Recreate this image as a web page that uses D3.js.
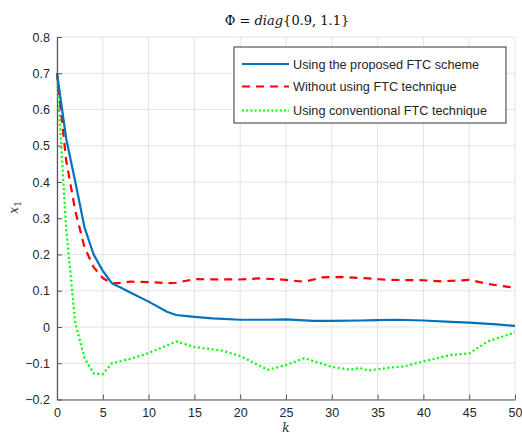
<!DOCTYPE html>
<html>
<head>
<meta charset="utf-8">
<script src="https://cdn.jsdelivr.net/npm/d3@7/dist/d3.min.js"></script>
<style>
    body { margin: 0; background: #fff; }
    svg { display: block; font-family: "Liberation Sans", Arial, sans-serif; }
    .tick text { font-size: 12.5px; fill: #262626; }
    .grid line { stroke: #e3e3e3; stroke-width: 1; }
</style>
</head>
<body>
<div id="chart"></div>
<script>
// data
var kBlue = [0, 1, 2, 3, 4, 5, 6, 7, 8, 10, 12, 13, 15, 17, 20, 23, 25, 28, 30, 33, 35, 37, 40, 43, 45, 48, 50];
var blue  = [0.70, 0.52, 0.40, 0.275, 0.20, 0.155, 0.12, 0.108, 0.095, 0.07, 0.042, 0.033, 0.028, 0.024, 0.020, 0.020, 0.021, 0.017, 0.017, 0.018, 0.019, 0.020, 0.018, 0.014, 0.012, 0.007, 0.003];

var kRed = [0, 1, 2, 3, 4, 5, 6, 7, 8, 10, 12, 13, 15, 20, 22, 24, 27, 29, 31, 34, 36, 40, 42, 45, 47, 50];
var red  = [0.70, 0.46, 0.32, 0.22, 0.165, 0.135, 0.12, 0.122, 0.125, 0.124, 0.121, 0.122, 0.132, 0.131, 0.134, 0.132, 0.125, 0.137, 0.138, 0.134, 0.13, 0.129, 0.126, 0.13, 0.119, 0.108];

var kGreen = [0, 1, 2, 3, 4, 5, 6, 8, 10, 13, 15, 18, 20, 23, 25, 27, 30, 32, 33, 34, 36, 38, 40, 43, 45, 47, 50];
var green  = [0.70, 0.27, 0.01, -0.085, -0.128, -0.13, -0.10, -0.088, -0.072, -0.04, -0.055, -0.065, -0.08, -0.118, -0.105, -0.086, -0.11, -0.118, -0.113, -0.12, -0.113, -0.108, -0.095, -0.077, -0.073, -0.04, -0.015];

var xTicks = [0, 5, 10, 15, 20, 25, 30, 35, 40, 45, 50];
var yTicks = [-0.2, -0.1, 0, 0.1, 0.2, 0.3, 0.4, 0.5, 0.6, 0.7, 0.8];
var legendLabels = ["Using the proposed FTC scheme", "Without using FTC technique", "Using conventional FTC technique"];

var W = 522, H = 435;
var margin = { top: 37, left: 57, bottom: 35.5, right: 7 };
var width = W - margin.left - margin.right;
var height = H - margin.top - margin.bottom;

var svg = d3.select("#chart").append("svg")
    .attr("width", W)
    .attr("height", H);

var g = svg.append("g")
    .attr("transform", "translate(" + margin.left + "," + margin.top + ")");

var x = d3.scaleLinear().domain([0, 50]).range([0, width]);
var y = d3.scaleLinear().domain([-0.2, 0.8]).range([height, 0]);

// grid
g.append("g").attr("class", "grid")
    .selectAll("line").data(xTicks).enter().append("line")
    .attr("x1", function (d) { return x(d); }).attr("x2", function (d) { return x(d); })
    .attr("y1", 0).attr("y2", height);
g.append("g").attr("class", "grid")
    .selectAll("line").data(yTicks).enter().append("line")
    .attr("y1", function (d) { return y(d); }).attr("y2", function (d) { return y(d); })
    .attr("x1", 0).attr("x2", width);

// axes
var xAxis = d3.axisBottom(x).tickValues(xTicks).tickSize(-5).tickPadding(9).tickSizeOuter(0)
    .tickFormat(d3.format("d"));
var yAxis = d3.axisLeft(y).tickValues(yTicks).tickSize(-5).tickPadding(7).tickSizeOuter(0)
    .tickFormat(function (d) { return Math.abs(d) < 1e-9 ? "0" : d3.format(".1f")(d); });

var gx = g.append("g").attr("transform", "translate(0," + height + ")").call(xAxis);
var gy = g.append("g").call(yAxis);
[gx, gy].forEach(function (a) {
    a.select(".domain").attr("stroke", "#555").attr("stroke-width", 1.2);
    a.selectAll(".tick line").attr("stroke", "#555");
});

// lines
var line = d3.line()
    .x(function (d) { return x(d[0]); })
    .y(function (d) { return y(d[1]); });

g.append("path")
    .datum(d3.zip(kGreen, green))
    .attr("fill", "none").attr("stroke", "#00ff00").attr("stroke-width", 2.2)
    .attr("stroke-dasharray", "2,2.6")
    .attr("d", line);

g.append("path")
    .datum(d3.zip(kRed, red))
    .attr("fill", "none").attr("stroke", "#ff0000").attr("stroke-width", 2.2)
    .attr("stroke-dasharray", "8,6")
    .attr("d", line);

g.append("path")
    .datum(d3.zip(kBlue, blue))
    .attr("fill", "none").attr("stroke", "#0072bd").attr("stroke-width", 2.2)
    .attr("d", line);

// legend
var legend = svg.append("g").attr("transform", "translate(234,47)");
legend.append("rect")
    .attr("width", 272).attr("height", 76)
    .attr("fill", "#fff").attr("stroke", "#555").attr("stroke-width", 1.2);

var styles = [
    { color: "#0072bd", dash: null },
    { color: "#ff0000", dash: "8,6" },
    { color: "#00ff00", dash: "2,2.2" }
];
var rowY = [17, 39.5, 63.5];
legendLabels.forEach(function (t, i) {
    legend.append("line")
        .attr("x1", 8).attr("x2", 55)
        .attr("y1", rowY[i]).attr("y2", rowY[i])
        .attr("stroke", styles[i].color).attr("stroke-width", 2.2)
        .attr("stroke-dasharray", styles[i].dash);
    legend.append("text")
        .attr("x", 59).attr("y", rowY[i] + 4.5)
        .attr("font-size", "12.7px").attr("fill", "#262626")
        .text(t);
});

// title
var title = svg.append("text")
    .attr("x", 287).attr("y", 25)
    .attr("text-anchor", "middle")
    .attr("font-family", "'DejaVu Serif', 'Liberation Serif', serif")
    .attr("font-size", "13px").attr("fill", "#111");
title.append("tspan").text("Φ = ");
title.append("tspan").attr("font-style", "italic").text("diag");
title.append("tspan").text("{0.9, 1.1}");

// axis labels
svg.append("text")
    .attr("transform", "translate(18," + (margin.top + y(0.33)) + ") rotate(-90)")
    .attr("text-anchor", "middle")
    .attr("font-family", "'DejaVu Serif', 'Liberation Serif', serif")
    .attr("font-size", "12px").attr("fill", "#262626")
    .append("tspan").attr("font-style", "italic").text("x")
    .append("tspan").attr("font-style", "normal").attr("font-size", "9px").attr("dy", 3).text("1");

svg.append("text")
    .attr("x", margin.left + x(25)).attr("y", 432)
    .attr("text-anchor", "middle")
    .attr("font-family", "'DejaVu Serif', 'Liberation Serif', serif")
    .attr("font-style", "italic")
    .attr("font-size", "12px").attr("fill", "#262626")
    .text("k");
</script>
</body>
</html>
